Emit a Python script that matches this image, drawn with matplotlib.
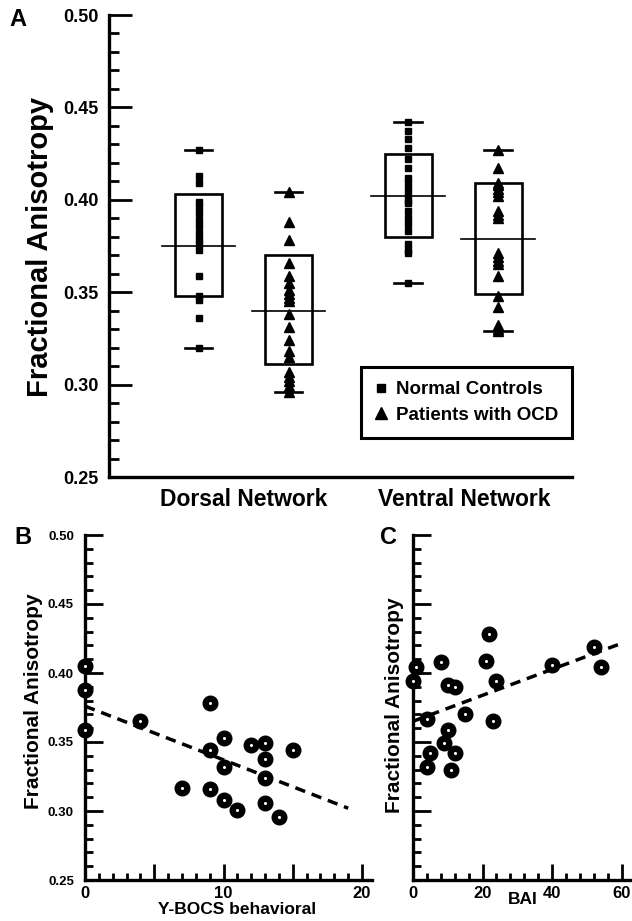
import numpy as np
import matplotlib
matplotlib.use('Agg')
import matplotlib.pyplot as plt
from matplotlib.patches import Rectangle
from matplotlib.lines import Line2D
from matplotlib.ticker import MultipleLocator, FormatStrFormatter

plt.rcParams['font.family'] = ['Liberation Sans', 'DejaVu Sans']
plt.rcParams['font.weight'] = 'bold'

# ---- Panel A data: FA per subject, per network and group
networks = ['Dorsal Network', 'Ventral Network']
group_labels = ['Normal Controls', 'Patients with OCD']
dorsal_ctrl = [0.427, 0.413, 0.409, 0.399, 0.396, 0.393, 0.389, 0.386, 0.382,
               0.379, 0.376, 0.373, 0.359, 0.348, 0.346, 0.336, 0.320]
dorsal_ocd = [0.404, 0.388, 0.378, 0.366, 0.359, 0.355, 0.351, 0.349, 0.347, 0.345,
              0.338, 0.331, 0.324, 0.318, 0.315, 0.307, 0.304, 0.302, 0.299, 0.296]
ventral_ctrl = [0.442, 0.437, 0.433, 0.428, 0.422, 0.417, 0.412, 0.409, 0.406, 0.403,
                0.400, 0.398, 0.394, 0.390, 0.387, 0.383, 0.376, 0.373, 0.371, 0.355]
ventral_ocd = [0.427, 0.417, 0.409, 0.408, 0.406, 0.404, 0.402, 0.394, 0.392, 0.390,
               0.371, 0.369, 0.367, 0.365, 0.359, 0.348, 0.342, 0.332, 0.330, 0.329]
# box (low/high) and centre line for each of the four columns
box_low = [0.348, 0.311, 0.380, 0.349]
box_high = [0.403, 0.370, 0.425, 0.409]
box_centre = [0.375, 0.340, 0.402, 0.379]

# ---- Panel B: Y-BOCS behavioral vs FA
ybocs = [0, 0, 0, 4, 9, 9, 9, 10, 10, 10, 11, 12, 13, 13, 13, 13, 14, 15, 7]
fa_b = [0.405, 0.388, 0.359, 0.365, 0.378, 0.344, 0.316, 0.353, 0.332, 0.308,
        0.301, 0.348, 0.349, 0.338, 0.324, 0.306, 0.296, 0.344, 0.317]
trend_b_x = [0, 19]
trend_b_y = [0.376, 0.302]

# ---- Panel C: BAI vs FA
bai = [22, 8, 21, 1, 0, 10, 12, 24, 40, 52, 54, 4, 15, 23, 10, 9, 5, 12, 4, 11]
fa_c = [0.428, 0.408, 0.409, 0.404, 0.394, 0.391, 0.390, 0.394, 0.406, 0.419,
        0.404, 0.367, 0.370, 0.365, 0.359, 0.349, 0.342, 0.342, 0.332, 0.330]
trend_c_x = [0, 60.5]
trend_c_y = [0.365, 0.422]

W, H = 632, 921
fig = plt.figure(figsize=(W / 100, H / 100), dpi=100)


def px_axes(left, top, right, bottom):
    return fig.add_axes([left / W, 1 - bottom / H, (right - left) / W, (bottom - top) / H])


axA = px_axes(108.5, 15, 572, 477)
axB = px_axes(85, 535, 371.7, 880)
axC = px_axes(413, 535, 632, 880)

for ax in (axA, axB, axC):
    ax.spines[['top', 'right']].set_visible(False)
    ax.spines[['left', 'bottom']].set_linewidth(2.4)
    ax.set_ylim(0.25, 0.50)
    ax.yaxis.set_major_locator(MultipleLocator(0.05))
    ax.yaxis.set_minor_locator(MultipleLocator(0.01))
    ax.yaxis.set_major_formatter(FormatStrFormatter('%.2f'))

# ---- Panel A
axA.set_xlim(0, 5.15)
positions = [1, 2, 3.33, 4.33]
columns = [dorsal_ctrl, dorsal_ocd, ventral_ctrl, ventral_ocd]
markers = ['s', '^', 's', '^']
sizes = [5, 7, 5, 7]
bw, mw, cw = 0.52, 0.82, 0.31
for i, (pos, vals) in enumerate(zip(positions, columns)):
    axA.plot(np.full(len(vals), pos), vals, ls='none', marker=markers[i],
             ms=sizes[i], color='black', zorder=3)
    axA.add_patch(Rectangle((pos - bw / 2, box_low[i]), bw, box_high[i] - box_low[i],
                            fill=False, ec='black', lw=1.9, zorder=2))
    axA.plot([pos - mw / 2, pos + mw / 2], [box_centre[i]] * 2, color='black', lw=1.2)
    for v in (min(vals), max(vals)):
        axA.plot([pos - cw / 2, pos + cw / 2], [v, v], color='black', lw=1.9)

axA.tick_params(axis='y', which='major', direction='in', length=16.5, width=2,
                pad=7, labelsize=13)
axA.tick_params(axis='y', which='minor', direction='in', length=7, width=2)
axA.set_xticks([1.5, 3.95])
axA.set_xticklabels(networks, fontsize=16.5)
axA.tick_params(axis='x', length=0, pad=8)

handles = [Line2D([], [], ls='none', marker='s', ms=6, color='black'),
           Line2D([], [], ls='none', marker='^', ms=8, color='black')]
leg = axA.legend(handles, group_labels, loc='upper right', bbox_to_anchor=(1.0, 0.238),
                 borderaxespad=0, fancybox=False, edgecolor='black', framealpha=1,
                 fontsize=13.5, handlelength=0.6, handletextpad=0.5, borderpad=0.75,
                 labelspacing=0.45)
leg.get_frame().set_linewidth(2.2)

# ---- Panels B and C
for ax, xs, ys, tx, ty in ((axB, ybocs, fa_b, trend_b_x, trend_b_y),
                           (axC, bai, fa_c, trend_c_x, trend_c_y)):
    ax.plot(xs, ys, ls='none', marker='o', ms=10.5, color='black', clip_on=False, zorder=3)
    ax.plot(xs, ys, ls='none', marker='o', ms=1.2, color='white', clip_on=False, zorder=4)
    ax.plot(tx, ty, ls=(0, (3, 2)), lw=2.5, color='black', zorder=2)
    ax.tick_params(axis='y', which='major', direction='in', length=13, width=2,
                   pad=8, labelsize=9.5)
    ax.tick_params(axis='y', which='minor', direction='in', length=6, width=2)
    ax.tick_params(axis='x', which='major', direction='in', length=11.5, width=2,
                   pad=4, labelsize=12)
    ax.tick_params(axis='x', which='minor', direction='in', length=5, width=2)

axB.set_xlim(0, 20.7)
axB.set_xticks([0, 5, 10, 15, 20])
axB.set_xticklabels(['0', '', '10', '', '20'])
axB.xaxis.set_minor_locator(MultipleLocator(1))

axC.set_xlim(0, 63)
axC.set_xticks([0, 20, 40, 60])
axC.xaxis.set_minor_locator(MultipleLocator(4))
axC.tick_params(axis='y', labelleft=False)

# ---- labels
fig.text(18 / W, 1 - 20 / H, 'A', fontsize=17, ha='center', va='center')
fig.text(23 / W, 1 - 537 / H, 'B', fontsize=17, ha='center', va='center')
fig.text(389 / W, 1 - 537 / H, 'C', fontsize=17, ha='center', va='center')
fig.text(40 / W, 1 - 247 / H, 'Fractional Anisotropy', rotation=90, fontsize=21,
         ha='center', va='center')
fig.text(34 / W, 1 - 701 / H, 'Fractional Anisotropy', rotation=90, fontsize=15,
         ha='center', va='center')
fig.text(395 / W, 1 - 705 / H, 'Fractional Anisotropy', rotation=90, fontsize=15,
         ha='center', va='center')
fig.text(237 / W, 1 - 909 / H, 'Y-BOCS behavioral', fontsize=12.5, ha='center', va='center')
fig.text(523 / W, 1 - 899 / H, 'BAI', fontsize=12.5, ha='center', va='center')

fig.savefig('out.png', dpi=100)
